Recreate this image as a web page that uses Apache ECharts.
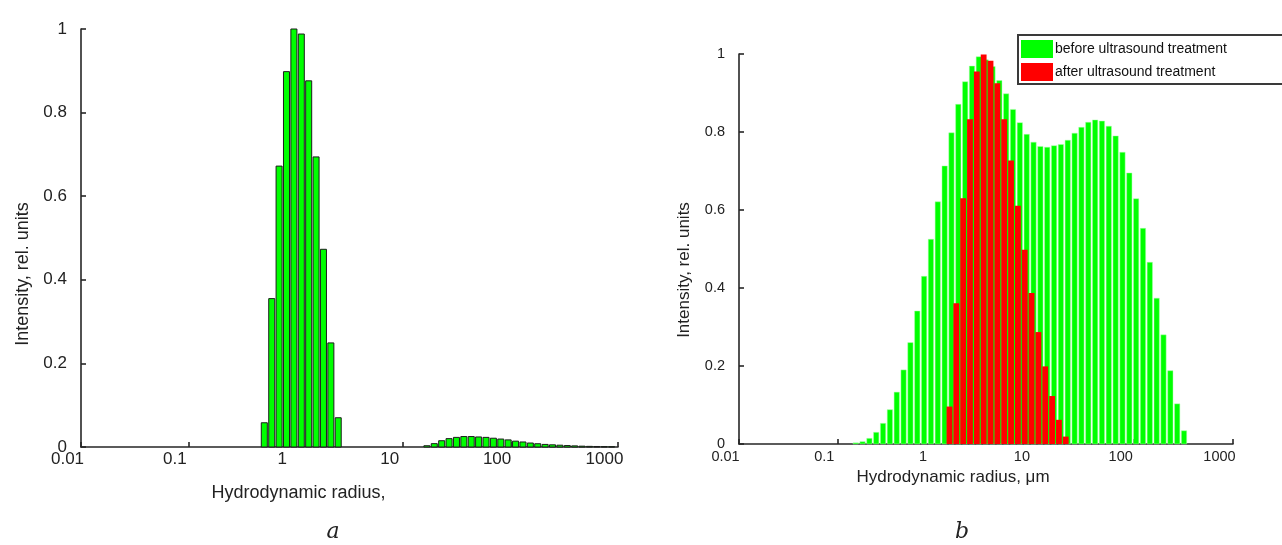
<!DOCTYPE html>
<html><head><meta charset="utf-8">
<script src="https://cdn.jsdelivr.net/npm/echarts@6/dist/echarts.min.js"></script>
<style>html,body{margin:0;padding:0;background:#fff}#c{width:1282px;height:545px}</style>
</head><body><div id="c"></div>
<script>
// ---- tick labels ----
const xTickLabels = ['0.01', '0.1', '1', '10', '100', '1000'];
const yTickLabels = ['0', '0.2', '0.4', '0.6', '0.8', '1'];

// ---- panel a: hydrodynamic radius bins and relative intensity ----
const radiiA = [0.509, 0.597, 0.699, 0.819, 0.960, 1.125, 1.318, 1.544, 1.809, 2.120, 2.483,
  16.62, 19.47, 22.82, 26.73, 31.32, 36.70, 42.99, 50.37, 59.02, 69.15, 81.02, 94.93, 111.2, 130.3,
  152.7, 178.9, 209.6, 245.6, 287.7, 337.2, 395.0, 462.9, 542.3, 635.3, 744.5, 872.3];
const intensityA = [0.058, 0.355, 0.672, 0.898, 1.000, 0.988, 0.876, 0.694, 0.473, 0.249, 0.070,
  0.003, 0.008, 0.015, 0.020, 0.023, 0.025, 0.025, 0.024, 0.023, 0.021, 0.019, 0.017, 0.014, 0.012,
  0.0095, 0.0078, 0.0062, 0.0052, 0.0043, 0.0035, 0.0027, 0.0020, 0.0015, 0.0012, 0.0009, 0.0007];

// ---- panel b: before ultrasound treatment ----
const radiiBefore = [0.1518, 0.1780, 0.2088, 0.2448, 0.2871, 0.3368, 0.3950, 0.4632, 0.5433, 0.6372,
  0.7473, 0.8763, 1.028, 1.206, 1.414, 1.658, 1.945, 2.281, 2.676, 3.138,
  3.680, 4.315, 5.061, 5.936, 6.961, 8.166, 9.577, 11.23, 13.17, 15.45,
  18.12, 21.25, 24.93, 29.23, 34.28, 40.21, 47.16, 55.31, 64.87, 76.07,
  89.22, 104.6, 122.7, 143.9, 168.8, 197.9, 232.2, 272.3, 319.4];
const intensityBefore = [0.003, 0.006, 0.0145, 0.030, 0.053, 0.088, 0.133, 0.190, 0.260, 0.341,
  0.430, 0.525, 0.621, 0.713, 0.798, 0.871, 0.929, 0.969, 0.993, 0.985,
  0.968, 0.932, 0.898, 0.858, 0.824, 0.794, 0.774, 0.763, 0.761, 0.765,
  0.768, 0.779, 0.797, 0.812, 0.825, 0.831, 0.828, 0.815, 0.790, 0.748,
  0.695, 0.629, 0.553, 0.466, 0.374, 0.280, 0.188, 0.103, 0.034];

// ---- panel b: after ultrasound treatment ----
const radiiAfter = [1.350, 1.583, 1.857, 2.177, 2.554, 2.995, 3.513, 4.119, 4.831, 5.666,
  6.644, 7.794, 9.141, 10.72, 12.57, 14.75, 17.30, 20.28];
const intensityAfter = [0.096, 0.361, 0.630, 0.833, 0.955, 0.999, 0.983, 0.925, 0.833, 0.727,
  0.611, 0.498, 0.387, 0.287, 0.199, 0.123, 0.062, 0.019];

const FONT = "'Liberation Sans', Arial, sans-serif";
const INK = '#222';
const AXIS = '#262626';

function pairs(xs, ys) { return xs.map((x, i) => [x, ys[i]]); }

function barRenderer(radii, widthFrac, fill, stroke, lw) {
  const ratio = radii[1] / radii[0];
  return function (params, api) {
    const x = api.value(0), y = api.value(1);
    const top = api.coord([x, y]);
    const base = api.coord([x, 0]);
    const next = api.coord([x * ratio, 0]);
    const pitch = next[0] - base[0];
    const w = pitch * widthFrac;
    return {
      type: 'rect',
      shape: { x: top[0] - w / 2, y: top[1], width: w, height: base[1] - top[1] },
      style: { fill: fill, stroke: stroke, lineWidth: lw }
    };
  };
}

function xAxisCfg(gi, fs, nameFs, name, nameGap, namePad, margin) {
  return {
    type: 'log', gridIndex: gi, logBase: 10, min: 0.01, max: 1000,
    axisLine: { show: true, lineStyle: { color: AXIS, width: 1.6 } },
    axisTick: { show: true, inside: true, length: 5, lineStyle: { color: AXIS, width: 1.6 } },
    minorTick: { show: false },
    splitLine: { show: false },
    axisLabel: {
      fontSize: fs, color: INK, fontFamily: FONT, margin: margin, padding: [0, 27, 0, 0],
      showMinLabel: true, showMaxLabel: true,
      formatter: v => xTickLabels[Math.round(Math.log10(v)) + 2]
    },
    name: name, nameLocation: 'middle', nameGap: nameGap,
    nameTextStyle: { fontSize: nameFs, color: INK, fontFamily: FONT, padding: [0, namePad, 0, 0] }
  };
}

function yAxisCfg(gi, fs, nameFs, nameGap, namePad) {
  return {
    type: 'value', gridIndex: gi, min: 0, max: 1, interval: 0.2,
    axisLine: { show: true, lineStyle: { color: AXIS, width: 1.6 } },
    axisTick: { show: true, inside: true, length: 5, lineStyle: { color: AXIS, width: 1.6 } },
    splitLine: { show: false },
    axisLabel: {
      fontSize: fs, color: INK, fontFamily: FONT, margin: 14, padding: [0, 0, 10, 0],
      formatter: v => yTickLabels[Math.round(v * 5)]
    },
    name: 'Intensity, rel. units', nameLocation: 'middle', nameGap: nameGap, nameRotate: 90,
    nameTextStyle: { fontSize: nameFs, color: INK, fontFamily: FONT, padding: [0, namePad, 0, 0] }
  };
}

const chart = echarts.init(document.getElementById('c'), null, { renderer: 'canvas' });
chart.setOption({
  animation: false,
  backgroundColor: '#fff',
  title: [
    { text: 'a', left: 333, top: 521, textAlign: 'center', padding: 0,
      textStyle: { fontFamily: "'DejaVu Serif', serif", fontStyle: 'italic', fontWeight: 'normal', fontSize: 22, color: INK } },
    { text: 'b', left: 962, top: 521, textAlign: 'center', padding: 0,
      textStyle: { fontFamily: "'DejaVu Serif', serif", fontStyle: 'italic', fontWeight: 'normal', fontSize: 22, color: INK } }
  ],
  legend: {
    data: ['before ultrasound treatment', 'after ultrasound treatment'],
    orient: 'vertical', left: 1018, top: 35,
    itemWidth: 32, itemHeight: 18, itemGap: 5, icon: 'rect',
    padding: [5, 58, 3, 3], borderColor: '#3a3a3a', borderWidth: 2, backgroundColor: '#fff',
    selectedMode: false,
    textStyle: { fontSize: 14, color: '#111', fontFamily: FONT, padding: [0, 0, 10, -3] }
  },
  grid: [
    { left: 81, right: 664, top: 29, bottom: 98 },
    { left: 739, right: 49, top: 54, bottom: 101 }
  ],
  xAxis: [
    xAxisCfg(0, 17, 18, 'Hydrodynamic radius,', 37, 102, 4),
    xAxisCfg(1, 14.5, 17, 'Hydrodynamic radius, μm', 24, 66, 5)
  ],
  yAxis: [
    yAxisCfg(0, 17, 18, 49, 72),
    yAxisCfg(1, 14.5, 17, 46, 42)
  ],
  series: [
    { type: 'custom', name: 'a', xAxisIndex: 0, yAxisIndex: 0,
      renderItem: barRenderer(radiiA, 0.81, '#00ff00', '#1c1c1c', 1),
      itemStyle: { color: '#00ff00' }, data: pairs(radiiA, intensityA) },
    { type: 'custom', name: 'before ultrasound treatment', xAxisIndex: 1, yAxisIndex: 1,
      renderItem: barRenderer(radiiBefore, 0.78, '#00ff00', 'rgba(170,255,170,0.8)', 0.6),
      itemStyle: { color: '#00ff00' }, data: pairs(radiiBefore, intensityBefore) },
    { type: 'custom', name: 'after ultrasound treatment', xAxisIndex: 1, yAxisIndex: 1,
      renderItem: barRenderer(radiiAfter, 0.85, '#ff0000', null, 0),
      itemStyle: { color: '#ff0000' }, data: pairs(radiiAfter, intensityAfter) }
  ]
});
</script>
</body></html>
